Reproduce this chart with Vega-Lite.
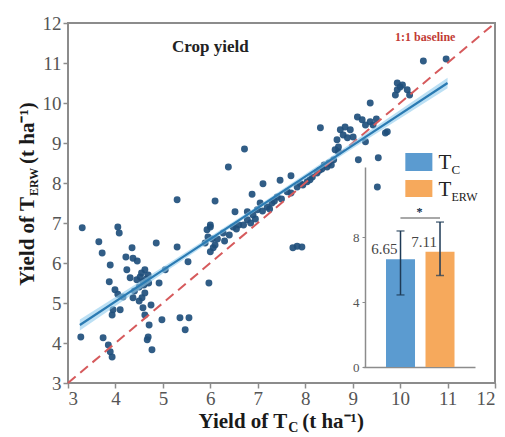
{
  "$schema": "https://vega.github.io/schema/vega-lite/v6.json",
  "width": 427,
  "height": 360,
  "autosize": {"type": "none"},
  "padding": {"left": 68, "top": 23, "right": 10, "bottom": 54},
  "background": "white",
  "config": {
    "font": "Liberation Serif",
    "view": {"stroke": "#8c8c8c", "strokeWidth": 2},
    "axis": {"labelOverlap": false},
    "axisY": {"labelOverlap": false},
    "axisLeft": {"labelOverlap": false}
  },
  "datasets": {
    "anno": [{"kind": "annotation"}],
    "pts": [
      {"x":3.30,"y":6.88},{"x":4.05,"y":6.9},{"x":4.08,"y":6.75},{"x":3.65,"y":6.53},{"x":3.72,"y":6.25},{"x":4.86,"y":6.5},{"x":5.30,"y":6.4},{"x":4.35,"y":6.38},{"x":4.22,"y":6.15},{"x":4.37,"y":6.12},{"x":4.46,"y":6.05},{"x":3.89,"y":5.95},{"x":5.53,"y":6.03},{"x":4.24,"y":5.83},{"x":4.62,"y":5.83},{"x":4.69,"y":5.7},{"x":4.52,"y":5.65},{"x":4.45,"y":5.58},{"x":4.58,"y":5.53},{"x":4.31,"y":5.63},{"x":5.05,"y":5.83},{"x":3.87,"y":5.53},{"x":4.92,"y":5.5},{"x":5.97,"y":5.5},{"x":3.99,"y":5.33},{"x":4.16,"y":5.15},{"x":4.37,"y":5.13},{"x":4.56,"y":5.13},{"x":3.95,"y":4.83},{"x":4.1,"y":4.83},{"x":3.93,"y":4.7},{"x":4.58,"y":4.88},{"x":4.62,"y":4.7},{"x":4.98,"y":4.58},{"x":5.36,"y":4.63},{"x":5.55,"y":4.63},{"x":5.47,"y":4.33},{"x":4.71,"y":4.45},{"x":4.69,"y":4.15},{"x":4.67,"y":4.08},{"x":4.77,"y":3.83},{"x":3.27,"y":4.15},{"x":3.74,"y":4.13},{"x":3.85,"y":3.95},{"x":3.89,"y":3.78},{"x":3.93,"y":3.65},
      {"x":4.55,"y":5.75},{"x":4.65,"y":5.6},{"x":4.6,"y":5.45},{"x":4.5,"y":5.4},{"x":4.7,"y":5.5},{"x":4.4,"y":5.3},{"x":4.62,"y":5.25},{"x":4.5,"y":5.05},{"x":4.75,"y":4.95},{"x":4.05,"y":5.22},
      {"x":6.0,"y":6.9},{"x":5.93,"y":6.83},{"x":5.89,"y":6.5},{"x":6.06,"y":6.38},{"x":6.0,"y":6.28},{"x":6.04,"y":6.6},{"x":6.1,"y":6.45},{"x":5.95,"y":6.65},
      {"x":5.3,"y":7.58},{"x":6.1,"y":7.55},{"x":6.38,"y":8.4},{"x":6.72,"y":8.85},{"x":6.52,"y":7.28},{"x":6.78,"y":7.28},{"x":6.88,"y":7.72},{"x":7.11,"y":7.98},{"x":7.47,"y":8.07},{"x":7.7,"y":8.18},{"x":7.83,"y":6.42},{"x":7.74,"y":6.38},{"x":7.93,"y":6.4},
      {"x":6.27,"y":6.75},{"x":6.48,"y":6.9},{"x":6.6,"y":6.95},{"x":6.78,"y":7.08},{"x":6.9,"y":7.2},{"x":6.99,"y":7.33},{"x":7.1,"y":7.3},{"x":7.2,"y":7.4},{"x":7.3,"y":7.5},{"x":7.41,"y":7.65},{"x":7.5,"y":7.6},{"x":7.62,"y":7.78},{"x":7.7,"y":7.75},{"x":7.83,"y":7.9},{"x":7.95,"y":7.95},{"x":8.04,"y":8.03},{"x":8.15,"y":8.15},{"x":8.25,"y":8.25},{"x":8.35,"y":8.35},{"x":8.46,"y":8.4},{"x":8.5,"y":8.5},{"x":8.6,"y":8.58},{"x":8.7,"y":8.78},{"x":6.4,"y":6.7},{"x":6.7,"y":6.95},{"x":6.95,"y":7.1},{"x":7.25,"y":7.35},{"x":7.05,"y":7.5},{"x":7.35,"y":7.55},{"x":6.85,"y":7.0},{"x":6.55,"y":6.85},{"x":6.3,"y":6.55},{"x":6.15,"y":6.6},{"x":8.1,"y":8.08},{"x":8.3,"y":8.32},{"x":8.55,"y":8.45},{"x":8.4,"y":8.45},{"x":7.9,"y":7.98},{"x":6.0,"y":6.95},
      {"x":9.94,"y":10.5},{"x":10.0,"y":10.4},{"x":10.15,"y":10.33},{"x":10.2,"y":10.2},{"x":9.94,"y":10.33},{"x":9.9,"y":10.2},{"x":10.49,"y":11.05},{"x":10.97,"y":11.1},{"x":10.05,"y":10.45},
      {"x":9.37,"y":10.0},{"x":8.32,"y":9.38},{"x":9.69,"y":9.25},{"x":9.2,"y":9.58},{"x":9.1,"y":9.65},{"x":9.27,"y":9.45},{"x":9.37,"y":9.53},{"x":9.43,"y":9.45},{"x":8.74,"y":9.33},{"x":8.8,"y":9.2},{"x":8.67,"y":9.08},{"x":8.89,"y":9.13},{"x":8.95,"y":9.33},{"x":9.01,"y":9.15},{"x":8.7,"y":8.9},{"x":8.63,"y":8.83},{"x":9.27,"y":9.03},{"x":9.12,"y":8.58},{"x":9.54,"y":8.63},{"x":9.52,"y":7.9},{"x":9.5,"y":9.6},{"x":8.84,"y":9.4},{"x":9.73,"y":9.28}
    ],
    "fit": [
      {"x":3.25,"y":4.45,"lo":4.31,"hi":4.59},
      {"x":5.0,"y":5.82,"lo":5.74,"hi":5.9},
      {"x":7.0,"y":7.38,"lo":7.33,"hi":7.43},
      {"x":9.0,"y":8.94,"lo":8.86,"hi":9.02},
      {"x":11.0,"y":10.5,"lo":10.37,"hi":10.63}
    ],
    "bars": [
      {"group":"T_C","mean":6.65,"lo":4.45,"hi":8.4},
      {"group":"T_ERW","mean":7.11,"lo":5.65,"hi":8.95}
    ]
  },
  "layer": [
    {
      "layer": [
        {
          "data": {"name": "pts"},
          "mark": {"type": "point", "filled": true, "size": 48, "color": "#1f4f7c", "opacity": 0.92},
          "encoding": {
            "x": {"field": "x", "type": "quantitative",
              "scale": {"domain": [3, 12], "nice": false, "zero": false},
              "axis": {"values": [3,4,5,6,7,8,9,10,11,12], "title": null, "grid": false, "domain": false, "labelOverlap": false,
                "tickColor": "#8c8c8c", "tickSize": 5, "tickWidth": 1.5, "labelFontSize": 19, "labelColor": "#555555", "labelPadding": 1}},
            "y": {"field": "y", "type": "quantitative",
              "scale": {"domain": [3, 12], "nice": false, "zero": false},
              "axis": {"values": [3,4,5,6,7,8,9,10,11,12], "tickCount": 10, "title": null, "grid": false, "domain": false, "labelOverlap": false, "labelBound": false,
                "tickColor": "#8c8c8c", "tickSize": 5, "tickWidth": 1.5, "labelFontSize": 19, "labelColor": "#555555", "labelPadding": 2}}
          }
        },
        {
          "data": {"name": "anno"},
          "mark": {"type": "rule", "color": "#d65a5c", "strokeWidth": 2, "strokeDash": [10, 6]},
          "encoding": {"x": {"datum": 3}, "y": {"datum": 3}, "x2": {"datum": 12}, "y2": {"datum": 12}}
        },
        {
          "data": {"name": "fit"},
          "mark": {"type": "area", "color": "#8fcbec", "opacity": 0.6},
          "encoding": {"x": {"field": "x", "type": "quantitative"}, "y": {"field": "lo", "type": "quantitative"}, "y2": {"field": "hi"}}
        },
        {
          "data": {"name": "fit"},
          "mark": {"type": "line", "color": "#2b7bb3", "strokeWidth": 2.2},
          "encoding": {"x": {"field": "x", "type": "quantitative"}, "y": {"field": "y", "type": "quantitative"}}
        },
        {
          "data": {"name": "anno"},
          "mark": {"type": "text", "text": "Crop yield", "fontSize": 17, "fontWeight": "bold", "color": "#222222", "baseline": "middle"},
          "encoding": {"x": {"datum": 6.0}, "y": {"datum": 11.4}}
        },
        {
          "data": {"name": "anno"},
          "mark": {"type": "text", "text": "1:1 baseline", "fontSize": 12, "fontWeight": "bold", "color": "#c23b35", "baseline": "middle"},
          "encoding": {"x": {"datum": 10.53}, "y": {"datum": 11.64}}
        },
        {
          "data": {"name": "anno"},
          "mark": {"type": "text", "text": "Yield of T", "fontSize": 21, "fontWeight": "bold", "color": "#1a1a1a", "align": "right", "baseline": "alphabetic"},
          "encoding": {"x": {"datum": 7.62}, "y": {"datum": 1.87}}
        },
        {
          "data": {"name": "anno"},
          "mark": {"type": "text", "text": "C", "fontSize": 14, "fontWeight": "bold", "color": "#1a1a1a", "align": "left", "baseline": "alphabetic", "dx": 1, "dy": 4},
          "encoding": {"x": {"datum": 7.62}, "y": {"datum": 1.87}}
        },
        {
          "data": {"name": "anno"},
          "mark": {"type": "text", "text": "(t ha⁻¹)", "fontSize": 21, "fontWeight": "bold", "color": "#1a1a1a", "align": "left", "baseline": "alphabetic", "dx": 15},
          "encoding": {"x": {"datum": 7.62}, "y": {"datum": 1.87}}
        },
        {
          "data": {"name": "anno"},
          "mark": {"type": "text", "text": "Yield of T", "fontSize": 21, "fontWeight": "bold", "color": "#1a1a1a", "align": "right", "baseline": "alphabetic", "angle": 270},
          "encoding": {"x": {"datum": 2.283}, "y": {"datum": 7.65}}
        },
        {
          "data": {"name": "anno"},
          "mark": {"type": "text", "text": "ERW", "fontSize": 12, "fontWeight": "bold", "color": "#1a1a1a", "align": "left", "baseline": "alphabetic", "angle": 270, "dx": 1, "dy": 4},
          "encoding": {"x": {"datum": 2.283}, "y": {"datum": 7.65}}
        },
        {
          "data": {"name": "anno"},
          "mark": {"type": "text", "text": "(t ha⁻¹)", "fontSize": 21, "fontWeight": "bold", "color": "#1a1a1a", "align": "left", "baseline": "alphabetic", "angle": 270, "dx": 33},
          "encoding": {"x": {"datum": 2.283}, "y": {"datum": 7.65}}
        },
        {
          "data": {"name": "anno"},
          "mark": {"type": "rect", "color": "#5b9bd0"},
          "encoding": {"x": {"datum": 10.11}, "x2": {"datum": 10.68}, "y": {"datum": 8.75}, "y2": {"datum": 8.3}}
        },
        {
          "data": {"name": "anno"},
          "mark": {"type": "rect", "color": "#f6a95c"},
          "encoding": {"x": {"datum": 10.11}, "x2": {"datum": 10.68}, "y": {"datum": 8.075}, "y2": {"datum": 7.65}}
        },
        {
          "data": {"name": "anno"},
          "mark": {"type": "text", "text": "T", "fontSize": 21, "color": "#222222", "align": "left", "baseline": "middle"},
          "encoding": {"x": {"datum": 10.81}, "y": {"datum": 8.5}}
        },
        {
          "data": {"name": "anno"},
          "mark": {"type": "text", "text": "C", "fontSize": 13, "color": "#222222", "align": "left", "baseline": "middle", "dx": 13, "dy": 7},
          "encoding": {"x": {"datum": 10.81}, "y": {"datum": 8.5}}
        },
        {
          "data": {"name": "anno"},
          "mark": {"type": "text", "text": "T", "fontSize": 21, "color": "#222222", "align": "left", "baseline": "middle"},
          "encoding": {"x": {"datum": 10.81}, "y": {"datum": 7.82}}
        },
        {
          "data": {"name": "anno"},
          "mark": {"type": "text", "text": "ERW", "fontSize": 12, "color": "#222222", "align": "left", "baseline": "middle", "dx": 13, "dy": 7},
          "encoding": {"x": {"datum": 10.81}, "y": {"datum": 7.82}}
        }
      ]
    },
    {
      "data": {"name": "bars"},
      "layer": [
        {
          "mark": {"type": "bar"},
          "encoding": {
            "x": {"field": "group", "type": "nominal",
              "scale": {"type": "band", "domain": ["T_C", "T_ERW"], "range": [295, 407], "paddingInner": 0.2658, "paddingOuter": 0.5506, "align": 0.529},
              "axis": {"orient": "bottom", "offset": -16, "labels": false, "ticks": false, "title": null, "domainColor": "#8c8c8c", "domainWidth": 1.5}},
            "y": {"field": "mean", "type": "quantitative",
              "scale": {"domain": [0, 12.35], "range": [344, 144], "nice": false},
              "axis": {"orient": "left", "offset": -297, "values": [0, 4, 8], "title": null, "grid": false,
                "domainColor": "#8c8c8c", "domainWidth": 1.5, "tickColor": "#8c8c8c", "tickSize": 3, "labelFontSize": 13, "labelColor": "#555555", "labelPadding": 3}},
            "color": {"field": "group", "type": "nominal", "scale": {"domain": ["T_C", "T_ERW"], "range": ["#5b9bd0", "#f6a95c"]}, "legend": null}
          }
        },
        {
          "mark": {"type": "rule", "color": "#1e3a56", "strokeWidth": 1.5},
          "encoding": {"x": {"field": "group", "type": "nominal"}, "y": {"field": "lo", "type": "quantitative"}, "y2": {"field": "hi"}}
        },
        {
          "mark": {"type": "tick", "orient": "horizontal", "size": 8, "thickness": 1.5, "color": "#1e3a56"},
          "encoding": {"x": {"field": "group", "type": "nominal"}, "y": {"field": "lo", "type": "quantitative"}}
        },
        {
          "mark": {"type": "tick", "orient": "horizontal", "size": 8, "thickness": 1.5, "color": "#1e3a56"},
          "encoding": {"x": {"field": "group", "type": "nominal"}, "y": {"field": "hi", "type": "quantitative"}}
        },
        {
          "mark": {"type": "text", "align": "right", "baseline": "middle", "dx": -3, "dy": -10, "fontSize": 15, "color": "#444444"},
          "encoding": {"x": {"field": "group", "type": "nominal"}, "y": {"field": "mean", "type": "quantitative"}, "text": {"field": "mean", "type": "quantitative", "format": ".2f"}}
        },
        {
          "mark": {"type": "rule", "color": "#8c8c8c", "strokeWidth": 1.2},
          "encoding": {"x": {"datum": "T_C"}, "x2": {"datum": "T_ERW"}, "y": {"datum": 9.2}}
        },
        {
          "mark": {"type": "text", "text": "*", "fontSize": 12, "color": "#1e3a56", "baseline": "middle", "dx": 19, "dy": -6},
          "encoding": {"x": {"datum": "T_C"}, "y": {"datum": 9.2}}
        }
      ]
    }
  ],
  "resolve": {"scale": {"x": "independent", "y": "independent", "color": "independent"}, "axis": {"x": "independent", "y": "independent"}}
}
